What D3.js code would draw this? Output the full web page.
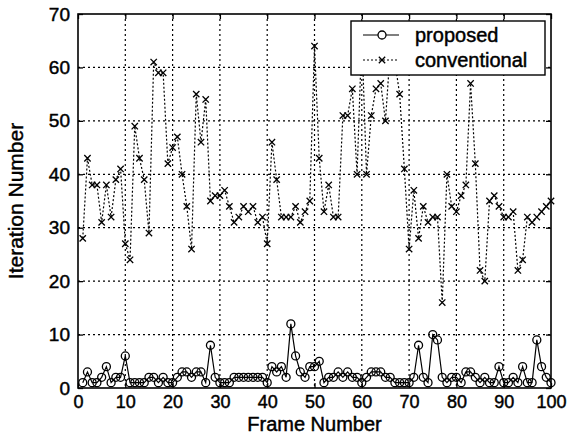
<!DOCTYPE html>
<html lang="en">
<head>
<meta charset="UTF-8">
<title>Iteration Number per Frame</title>
<script src="https://cdnjs.cloudflare.com/ajax/libs/d3/7.8.5/d3.min.js"></script>
<style>
    body { margin: 0; background: #fff; }
    svg text { font-family: "Liberation Sans", Arial, sans-serif; fill: #000; }
    .heavy { stroke: #000; stroke-width: 0.45px; }
</style>
</head>
<body>
<svg id="chart" width="580" height="436"></svg>
<script>
    // Data (frame 1..100)
    const proposed = [
        1, 3, 1, 1, 2, 4, 1, 2, 2, 6,
        1, 1, 1, 1, 2, 2, 1, 2, 1, 1,
        2, 3, 3, 2, 3, 3, 1, 8, 2, 1,
        1, 1, 2, 2, 2, 2, 2, 2, 2, 1,
        4, 3, 4, 2, 12, 6, 3, 2, 4, 4,
        5, 1, 2, 2, 3, 2, 3, 2, 2, 1,
        2, 3, 3, 3, 2, 2, 1, 1, 1, 1,
        2, 8, 2, 1, 10, 9, 2, 1, 2, 2,
        1, 3, 3, 2, 1, 2, 1, 1, 4, 1,
        1, 2, 1, 4, 1, 1, 9, 4, 2, 1
    ];
    const conventional = [
        28, 43, 38, 38, 31, 38, 32, 39, 41, 27,
        24, 49, 43, 39, 29, 61, 59, 59, 42, 45,
        47, 40, 34, 26, 55, 46, 54, 35, 36, 36,
        37, 34, 31, 32, 34, 33, 34, 31, 32, 27,
        46, 39, 32, 32, 32, 34, 31, 33, 35, 64,
        43, 33, 38, 32, 32, 51, 51, 56, 40, 66,
        40, 51, 56, 57, 50, 63, 61, 55, 41, 26,
        37, 28, 34, 31, 32, 32, 16, 40, 34, 33,
        36, 38, 57, 42, 22, 20, 35, 36, 34, 32,
        32, 33, 22, 24, 32, 31, 32, 33, 34, 35
    ];
    const xTicks = [0, 10, 20, 30, 40, 50, 60, 70, 80, 90, 100];
    const yTicks = [0, 10, 20, 30, 40, 50, 60, 70];
    const seriesNames = ["proposed", "conventional"];
    const xLabel = "Frame Number";
    const yLabel = "Iteration Number";

    const svg = d3.select("#chart");
    const margin = { top: 14, right: 29, bottom: 48, left: 78 };
    const width = 580 - margin.left - margin.right;
    const height = 436 - margin.top - margin.bottom;

    const x = d3.scaleLinear().domain([0, 100]).range([0, width]);
    const y = d3.scaleLinear().domain([0, 70]).range([height, 0]);

    const g = svg.append("g").attr("transform", `translate(${margin.left},${margin.top})`);

    // dotted grid
    g.append("g").selectAll("line")
        .data(xTicks.slice(1, -1))
        .join("line")
        .attr("x1", d => x(d)).attr("x2", d => x(d))
        .attr("y1", 0).attr("y2", height)
        .attr("stroke", "#000").attr("stroke-width", 1.2)
        .attr("stroke-dasharray", "2,3");
    g.append("g").selectAll("line")
        .data(yTicks.slice(1, -1))
        .join("line")
        .attr("y1", d => y(d)).attr("y2", d => y(d))
        .attr("x1", 0).attr("x2", width)
        .attr("stroke", "#000").attr("stroke-width", 1.2)
        .attr("stroke-dasharray", "2,3");

    // axes: labels outside, ticks pointing inwards on all four sides
    const tickLen = 5;
    g.append("g")
        .attr("transform", `translate(0,${height})`)
        .call(d3.axisBottom(x).tickValues(xTicks).tickSizeInner(-tickLen).tickSizeOuter(0).tickPadding(6))
        .call(a => a.select(".domain").remove())
        .selectAll("text").attr("font-size", 18).attr("dy", "0.75em").attr("class", "heavy");
    g.append("g")
        .call(d3.axisLeft(y).tickValues(yTicks).tickSizeInner(-tickLen).tickSizeOuter(0).tickPadding(8))
        .call(a => a.select(".domain").remove())
        .selectAll("text").attr("font-size", 19).attr("class", "heavy");
    g.append("g")
        .call(d3.axisTop(x).tickValues(xTicks).tickSizeInner(-tickLen).tickSizeOuter(0).tickFormat(""))
        .call(a => a.select(".domain").remove());
    g.append("g")
        .attr("transform", `translate(${width},0)`)
        .call(d3.axisRight(y).tickValues(yTicks).tickSizeInner(-tickLen).tickSizeOuter(0).tickFormat(""))
        .call(a => a.select(".domain").remove());
    svg.selectAll(".tick line").attr("stroke-width", 1.3);

    g.append("rect")
        .attr("width", width).attr("height", height)
        .attr("fill", "none").attr("stroke", "#000").attr("stroke-width", 1.6);

    // conventional: dotted line with x markers
    const line = d3.line().x((d, i) => x(i + 1)).y(d => y(d));
    g.append("path")
        .datum(conventional)
        .attr("d", line)
        .attr("fill", "none").attr("stroke", "#000").attr("stroke-width", 1.2)
        .attr("stroke-dasharray", "2,2");
    const cross = d3.symbol().type(d3.symbolX).size(28);
    g.append("g").selectAll("path")
        .data(conventional)
        .join("path")
        .attr("transform", (d, i) => `translate(${x(i + 1)},${y(d)})`)
        .attr("d", cross)
        .attr("fill", "none").attr("stroke", "#000").attr("stroke-width", 1.3);

    // proposed: solid line with circles
    g.append("path")
        .datum(proposed)
        .attr("d", line)
        .attr("fill", "none").attr("stroke", "#000").attr("stroke-width", 1.2);
    g.append("g").selectAll("circle")
        .data(proposed)
        .join("circle")
        .attr("cx", (d, i) => x(i + 1)).attr("cy", d => y(d))
        .attr("r", 4)
        .attr("fill", "none").attr("stroke", "#000").attr("stroke-width", 1.3);

    // axis titles
    svg.append("text")
        .attr("x", margin.left + width / 2).attr("y", 431)
        .attr("text-anchor", "middle").attr("font-size", 20).attr("class", "heavy")
        .text(xLabel);
    svg.append("text")
        .attr("transform", `translate(23,${margin.top + height / 2}) rotate(-90)`)
        .attr("text-anchor", "middle").attr("font-size", 21).attr("class", "heavy")
        .text(yLabel);

    // legend
    const lg = g.append("g").attr("transform", `translate(${351 - margin.left},${21 - margin.top})`);
    lg.append("rect")
        .attr("width", 194).attr("height", 54)
        .attr("fill", "#fff").attr("stroke", "#000").attr("stroke-width", 1.4);
    seriesNames.forEach((name, i) => {
        const ly = 14 + i * 25;
        lg.append("line")
            .attr("x1", 12).attr("x2", 48).attr("y1", ly).attr("y2", ly)
            .attr("stroke", "#000").attr("stroke-width", 1.2)
            .attr("stroke-dasharray", i === 0 ? null : "2,2");
        if (i === 0) {
            lg.append("circle").attr("cx", 31).attr("cy", ly).attr("r", 4)
                .attr("fill", "#fff").attr("stroke", "#000").attr("stroke-width", 1.3);
        } else {
            lg.append("path").attr("transform", `translate(31,${ly})`).attr("d", cross)
                .attr("fill", "none").attr("stroke", "#000").attr("stroke-width", 1.3);
        }
        lg.append("text")
            .attr("x", 64).attr("y", ly + 7)
            .attr("font-size", 20).attr("class", "heavy")
            .text(name);
    });
</script>
</body>
</html>
